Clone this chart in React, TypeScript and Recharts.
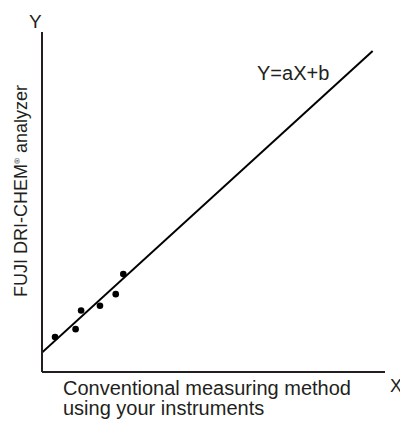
import { ComposedChart, XAxis, YAxis, Scatter, Line } from 'recharts'

// measured samples (both methods)
const sampleX = [3.8, 9.8, 11.4, 16.9, 21.5, 23.7]
const sampleY = [10.3, 12.6, 18.1, 19.5, 22.9, 28.8]

// regression line end points
const fitX = [0, 96.4]
const fitY = [5.7, 94.4]

const yAxisTitle = 'FUJI DRI-CHEM'
const yAxisTitleTail = ' analyzer'
const xAxisTitle = ['Conventional measuring method', 'using your instruments']
const equation = 'Y=aX+b'

const INK = '#231f20'
const FONT = '"Liberation Sans", Arial, sans-serif'

const points = sampleX.map((x, i) => ({ x, y: sampleY[i] }))
const fitLine = fitX.map((x, i) => ({ x, y: fitY[i] }))

export default function App() {
  return (
    <div style={{ position: 'absolute', left: 0, top: 0, width: 400, height: 422, background: '#fff' }}>
      <ComposedChart
        width={400}
        height={422}
        margin={{ top: 32, right: 15, left: 40, bottom: 48 }}
      >
        <XAxis
          type="number"
          dataKey="x"
          domain={[0, 100]}
          height={2}
          tick={false}
          tickLine={false}
          axisLine={{ stroke: INK, strokeWidth: 2 }}
          allowDataOverflow
        />
        <YAxis
          type="number"
          dataKey="y"
          domain={[0, 100]}
          width={2}
          tick={false}
          tickLine={false}
          axisLine={{ stroke: INK, strokeWidth: 2 }}
          allowDataOverflow
        />
        <Line
          data={fitLine}
          dataKey="y"
          stroke="#000"
          strokeWidth={2}
          dot={false}
          activeDot={false}
          isAnimationActive={false}
        />
        <Scatter data={points} fill="#000" isAnimationActive={false}
          shape={(p: any) => <circle cx={p.cx} cy={p.cy} r={3.3} fill="#000" />}
        />
      </ComposedChart>
      <svg width={400} height={422} style={{ position: 'absolute', left: 0, top: 0, pointerEvents: 'none' }}>
        <g fontFamily={FONT} fill={INK}>
          <text x={29} y={28} fontSize={19}>Y</text>
          <text x={390} y={392} fontSize={18}>X</text>
          <text x={257} y={80} fontSize={20}>{equation}</text>
          <text x={63} y={395} fontSize={20}>{xAxisTitle[0]}</text>
          <text x={63} y={415} fontSize={20}>{xAxisTitle[1]}</text>
          <text transform="rotate(-90 27 191)" x={27} y={191} fontSize={18} textAnchor="middle">
            {yAxisTitle}
            <tspan fontSize={8} dy={-7}>®</tspan>
            <tspan dy={7}>{yAxisTitleTail}</tspan>
          </text>
        </g>
      </svg>
    </div>
  )
}
